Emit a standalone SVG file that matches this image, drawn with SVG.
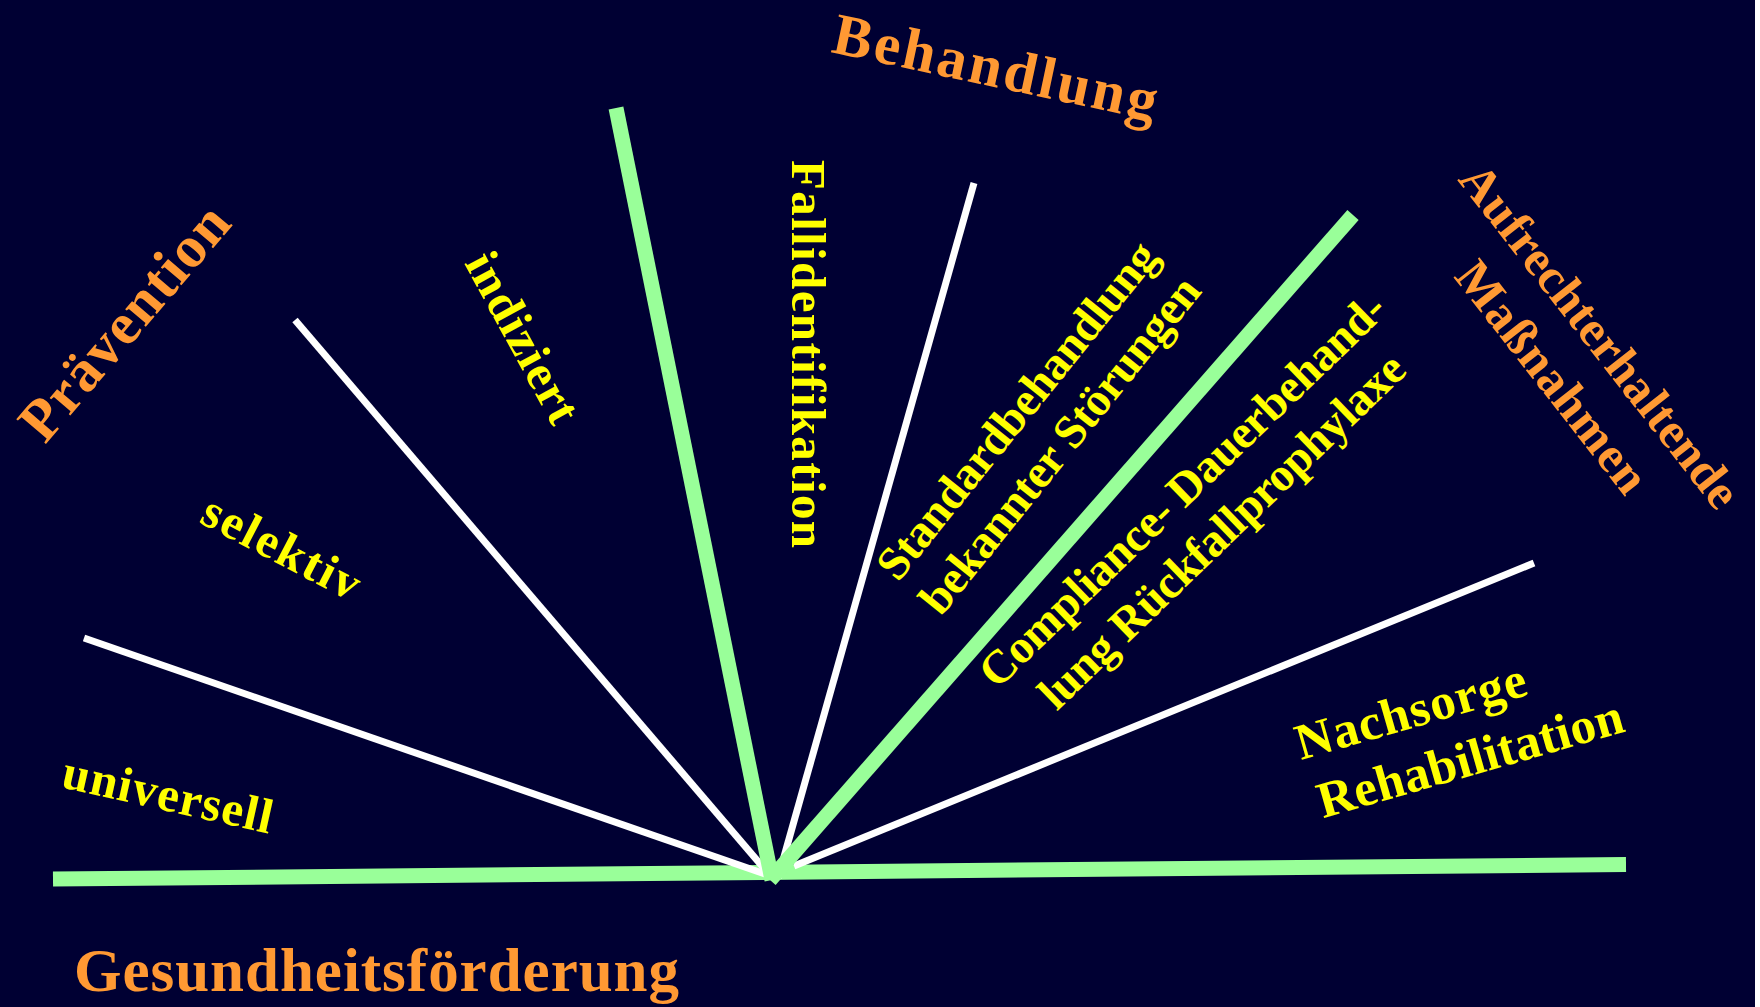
<svg xmlns="http://www.w3.org/2000/svg" width="1760" height="1007" viewBox="0 0 1760 1007">
<style>
.or{fill:#FF9933;font-family:"Liberation Serif","Times New Roman",serif;font-weight:bold;}
.ye{fill:#FFFF00;font-family:"Liberation Serif","Times New Roman",serif;font-weight:bold;}
.gr{stroke:#99FF99;stroke-width:15;stroke-linecap:butt;fill:none;}
.wh{stroke:#FFFFFF;stroke-width:7;stroke-linecap:butt;fill:none;}
</style>
<rect x="0" y="0" width="1760" height="1007" fill="#000033"/>
<rect x="1755" y="0" width="5" height="1007" fill="#FFFFFF"/>
<g id="connectors">
<line class="gr" x1="53" y1="879" x2="1626" y2="864.5"/>
<line class="wh" x1="84" y1="638" x2="765" y2="874"/>
<line class="wh" x1="295" y1="320" x2="768" y2="873"/>
<line class="wh" x1="974" y1="183" x2="778" y2="878"/>
<line class="wh" x1="1534" y1="563" x2="794" y2="866"/>
<line class="gr" x1="616" y1="108" x2="772" y2="880"/>
<line class="gr" x1="1353" y1="215" x2="770" y2="880"/>
</g>
<g id="behandlung"><text class="or" font-size="59" transform="translate(830,52) rotate(12)" textLength="330" lengthAdjust="spacing">Behandlung</text></g>
<g id="praevention"><text class="or" font-size="59" transform="translate(45,445) rotate(-49.5)" textLength="290" lengthAdjust="spacing">Prävention</text></g>
<g id="gesundheitsfoerderung"><text class="or" font-size="61" x="74" y="991" textLength="605" lengthAdjust="spacing">Gesundheitsförderung</text></g>
<g id="aufrechterhaltende" transform="translate(1587,346) rotate(52)">
<text class="or" font-size="50" text-anchor="middle" x="0" y="0" textLength="422" lengthAdjust="spacing">Aufrechterhaltende</text>
<text class="or" font-size="50" text-anchor="middle" x="3" y="63" textLength="280" lengthAdjust="spacing">Maßnahmen</text>
</g>
<g id="universell"><text class="ye" font-size="49" transform="translate(60,787) rotate(12.6)" textLength="214" lengthAdjust="spacing">universell</text></g>
<g id="selektiv"><text class="ye" font-size="49" transform="translate(198,522) rotate(27.5)" textLength="172" lengthAdjust="spacing">selektiv</text></g>
<g id="indiziert"><text class="ye" font-size="49" transform="translate(464,263) rotate(61.5)" textLength="187" lengthAdjust="spacing">indiziert</text></g>
<g id="fallidentifikation"><text class="ye" font-size="49" transform="translate(792,160) rotate(90)" textLength="388" lengthAdjust="spacing">Fallidentifikation</text></g>
<g id="standardbehandlung" transform="translate(1029,420) rotate(-51.2)">
<text class="ye" font-size="47" text-anchor="middle" x="0" y="0" textLength="418" lengthAdjust="spacing">Standardbehandlung</text>
<text class="ye" font-size="47" text-anchor="middle" x="0" y="55" textLength="418" lengthAdjust="spacing">bekannter Störungen</text>
</g>
<g id="compliance" transform="translate(1193,501) rotate(-44)">
<text class="ye" font-size="47" text-anchor="middle" x="0" y="0" textLength="545" lengthAdjust="spacing">Compliance- Dauerbehand-</text>
<text class="ye" font-size="47" text-anchor="middle" x="0" y="57" textLength="489" lengthAdjust="spacing">lung Rückfallprophylaxe</text>
</g>
<g id="nachsorge" transform="translate(1301,760) rotate(-16)">
<text class="ye" font-size="51" x="0" y="0" textLength="238" lengthAdjust="spacing">Nachsorge</text>
<text class="ye" font-size="51" x="5" y="62" textLength="316" lengthAdjust="spacing">Rehabilitation</text>
</g>
</svg>
